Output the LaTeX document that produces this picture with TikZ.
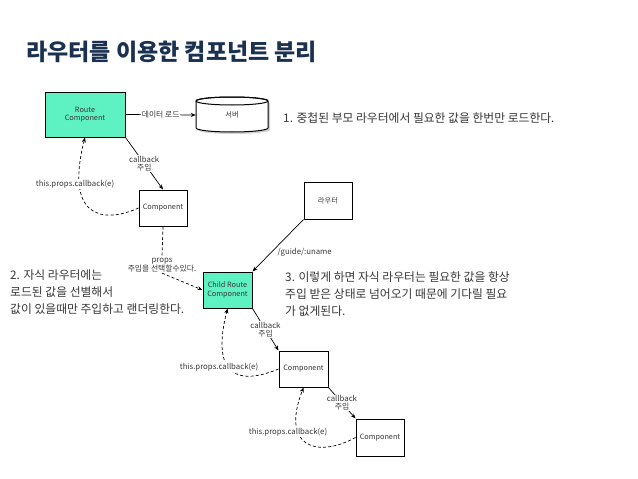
\documentclass[tikz,border=0pt]{standalone}
\usepackage{fontspec}
\setmainfont{Noto Sans CJK KR}
\usetikzlibrary{arrows.meta}
\definecolor{aqua}{RGB}{94,242,194}
\definecolor{titlec}{RGB}{27,49,80}
\definecolor{txt}{RGB}{55,55,55}
\begin{document}
\begin{tikzpicture}[x=1pt,y=-1pt,
  box/.style={draw=black, line width=1pt, minimum width=48pt, minimum height=36pt, inner sep=0pt,
    font=\fontsize{7.3}{8.5}\selectfont, align=center, text=txt},
  greenbox/.style={box, fill=aqua},
  lbl/.style={font=\fontsize{7.8}{8.2}\selectfont, fill=white, inner sep=0.8pt, align=center, text=txt},
  body/.style={font=\fontsize{11.8}{17.2}\selectfont, align=left, text=txt, inner sep=0pt},
  arr/.style={-{Stealth[length=5pt,width=4pt]}, line width=0.7pt},
  dasharr/.style={arr, dash pattern=on 3pt off 2.2pt}
]
\path[use as bounding box, fill=white] (0,0) rectangle (638,479);

% title
\node[anchor=west, inner sep=0pt, text=titlec, font=\fontsize{23}{26}\selectfont\bfseries] (title) at (26,52) {라우터를 이용한 컴포넌트 분리};

% boxes
\node[greenbox, minimum width=80pt, minimum height=45pt] (rc) at (85,114.5) {Route\\Component};
\node[box] (c1) at (163,208) {Component};
\node[box, minimum height=37pt] (router) at (328,200.5) {라우터};
\node[greenbox, minimum width=49pt] (child) at (227.5,290) {Child Route\\Component};
\node[box, minimum width=49pt] (c2) at (303.5,369) {Component};
\node[box, minimum height=37pt] (c3) at (380,437.5) {Component};

% server cylinder
\node[minimum width=72pt, minimum height=35pt, inner sep=0pt] (server) at (232,115) {};
\fill[black!35, opacity=0.5] (198,103) -- (198,130) arc[start angle=180, end angle=0, x radius=36, y radius=4] -- (270,103) -- cycle;
\draw[line width=1pt, fill=white] (196,101) -- (196,128) arc[start angle=180, end angle=0, x radius=36, y radius=4] -- (268,101) arc[start angle=0, end angle=-180, x radius=36, y radius=4] -- cycle;
\draw[line width=1pt] (232,101) ellipse [x radius=36, y radius=4];
\node[inner sep=0pt, font=\fontsize{7.3}{8.5}\selectfont, text=txt] (serverlabel) at (server) {서버};

% solid arrows
\draw[arr] (rc.east) -- node[lbl] (dl) {데이터 로드} (server.west);
\draw[arr] (rc.south east) -- node[lbl] (cb1) {callback\\주입} (c1.north);
\draw[arr] (child.south east) -- node[lbl] (cb2) {callback\\주입} (c2.north west);
\draw[arr] (c2.south east) -- node[lbl] (cb3) {callback\\주입} (c3.north west);
\draw[arr] (router.south west) -- node[pos=0.63, anchor=west, xshift=6pt, font=\fontsize{7.8}{9}\selectfont, text=txt, inner sep=0pt] (guide) {/guide/:uname} (child.north east);

% dashed return curves
\draw[dasharr] (c1.west) .. controls (100,225) and (65,215) .. (rc.south);
\draw[dasharr] (c2.west) .. controls (240,385) and (210,378) .. (child.south);
\draw[dasharr] (c3.west) .. controls (318,458) and (280,448) .. (c2.south);
\node[lbl] (t1) at (75,184) {this.props.callback(e)};
\node[lbl] (t2) at (219,367) {this.props.callback(e)};
\node[lbl] (t3) at (288,432) {this.props.callback(e)};

% props
\node[lbl] (props) at (162,265) {props\\주입을 선택할수있다.};
\draw[dash pattern=on 3pt off 2.2pt, line width=0.7pt] (c1.south) -- (props.north);
\draw[dasharr] (props.south) -- (child.west);

% texts
\node[body, anchor=west] (n1) at (283,118) {1. 중첩된 부모 라우터에서 필요한 값을 한번만 로드한다.};
\node[body, anchor=west] (n2) at (10,292) {2. 자식 라우터에는\\로드된 값을 선별해서\\값이 있을때만 주입하고 랜더링한다.};
\node[body, anchor=west] (n3) at (285,294) {3. 이렇게 하면 자식 라우터는 필요한 값을 항상\\주입 받은 상태로 넘어오기 때문에 기다릴 필요\\가 없게된다.};
\end{tikzpicture}
\end{document}
